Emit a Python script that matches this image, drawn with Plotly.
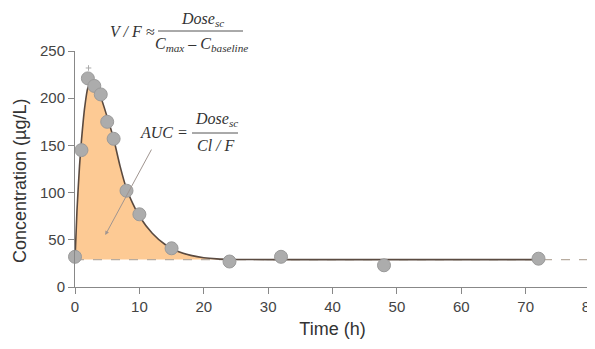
import plotly.graph_objects as go

# Observed data
time_obs = [0, 1, 2, 3, 4, 5, 6, 8, 10, 15, 24, 32, 48, 72]
conc_obs = [32, 145, 221, 213, 204, 175, 157, 102, 77, 41, 27, 32, 23, 30]

# Fitted curve
time_fit = [0, 0.3, 0.7, 1, 1.5, 2, 2.5, 3, 4, 5, 6, 7, 8, 9, 10, 12, 14, 16, 18, 20, 22, 25, 30, 40, 50, 60, 72]
conc_fit = [29, 80, 128, 155, 190, 211, 216, 213, 201, 180, 157, 128, 104, 88, 75, 57, 45, 37.5, 33.5, 31, 29.8, 29.2, 29, 29, 29, 29, 29]

baseline = 29
baseline_x = [0, 80]

peak_mark_t = [2.1]
peak_mark_c = [232]

x_ticks = [0, 10, 20, 30, 40, 50, 60, 70, 80]
y_ticks = [0, 50, 100, 150, 200, 250]

fig = go.Figure()

fig.add_trace(go.Scatter(x=baseline_x, y=[baseline, baseline], mode="lines",
                         line=dict(color="#b8aca0", width=1.2, dash="dash"),
                         hoverinfo="skip", showlegend=False))
fig.add_trace(go.Scatter(x=time_fit, y=conc_fit, mode="lines", line_shape="spline",
                         line_smoothing=0.6,
                         fill="tonexty", fillcolor="#fdca94",
                         line=dict(color="#5a4a40", width=1.6),
                         showlegend=False))
fig.add_trace(go.Scatter(x=time_obs, y=conc_obs, mode="markers",
                         marker=dict(size=13, color="#acacac", line=dict(color="#9a9a9a", width=1)),
                         cliponaxis=False, showlegend=False))
fig.add_trace(go.Scatter(x=peak_mark_t, y=peak_mark_c, mode="markers",
                         marker=dict(symbol="cross-thin", size=4, line=dict(color="#aaaaaa", width=1)),
                         cliponaxis=False, showlegend=False))

serif = "Liberation Serif"
ffont = dict(family=serif, size=16, color="#333333")

def fx(px):
    return (px - 75) / 515.0

def fy(py):
    return (287 - py) / 236.0

anns = [
    # V/F formula
    dict(text="<i>V / F ≈</i>", x=fx(157), y=fy(31), xanchor="right", yanchor="middle"),
    dict(text="<i>Dose<sub>sc</sub></i>", x=fx(202), y=fy(20), xanchor="center", yanchor="middle"),
    dict(text="<i>C<sub>max</sub> – C<sub>baseline</sub></i>", x=fx(201), y=fy(44), xanchor="center", yanchor="middle"),
    # AUC formula
    dict(text="<i>AUC =</i>", x=fx(190), y=fy(133), xanchor="right", yanchor="middle"),
    dict(text="<i>Dose<sub>sc</sub></i>", x=fx(216), y=fy(119), xanchor="center", yanchor="middle"),
    dict(text="<i>Cl / F</i>", x=fx(216), y=fy(145), xanchor="center", yanchor="middle"),
]
annotations = []
for a in anns:
    a.update(xref="paper", yref="paper", showarrow=False, font=ffont)
    annotations.append(a)

# y-axis title (placed as in the reference, slightly below the axis centre)
annotations.append(dict(text="Concentration (µg/L)", x=fx(20), y=fy(181), xref="paper", yref="paper",
                        xanchor="center", yanchor="middle", textangle=-90, showarrow=False,
                        font=dict(family="Liberation Sans", size=18, color="#333333")))

annotations.append(dict(x=4.7, y=55, xref="x", yref="y", ax=47, ay=-87, text="",
                        showarrow=True, arrowhead=2, arrowsize=0.8, arrowwidth=1,
                        arrowcolor="#a09590"))

shapes = [
    dict(type="line", xref="paper", yref="paper", x0=fx(158), x1=fx(243), y0=fy(31), y1=fy(31),
         line=dict(color="#555555", width=1)),
    dict(type="line", xref="paper", yref="paper", x0=fx(192), x1=fx(238), y0=fy(133), y1=fy(133),
         line=dict(color="#555555", width=1)),
]

axis_common = dict(showline=True, linecolor="#888888", linewidth=1, ticks="outside",
                   tickcolor="#888888", ticklen=6, showgrid=False, zeroline=False,
                   automargin=False, ticklabeloverflow="allow",
                   tickfont=dict(family="Liberation Sans", size=15, color="#444444"))

# page body adds an 8px offset; size figure so the plot lands where the reference has it
fig.update_layout(
    width=587, height=341,
    margin=dict(l=67, r=5, t=43, b=62),
    paper_bgcolor="white", plot_bgcolor="white",
    xaxis=dict(range=[0, 80], tickvals=x_ticks,
               title=dict(text="Time (h)", font=dict(family="Liberation Sans", size=18, color="#333333"), standoff=8),
               **axis_common),
    yaxis=dict(range=[0, 250], tickvals=y_ticks, **axis_common),
    annotations=annotations,
    shapes=shapes,
    showlegend=False,
)

fig.write_html("out.html")
